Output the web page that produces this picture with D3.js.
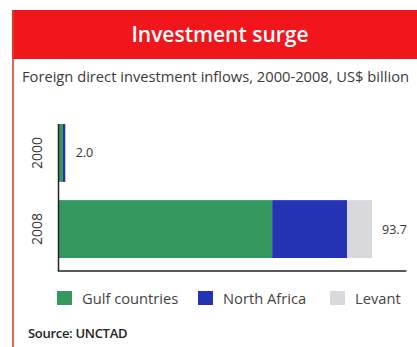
<!DOCTYPE html>
<html>
<head>
<meta charset="utf-8">
<script src="https://cdn.jsdelivr.net/npm/d3@7"></script>
<style>
  body { margin: 0; background: #fff; }
  text { font-family: "Open Sans", sans-serif; }
</style>
</head>
<body>
<svg id="chart" width="417" height="347"></svg>
<script>
const years = ["2000", "2008"]
const regions = ["Gulf countries", "North Africa", "Levant"]
const gulf = [1.2, 63.8]
const northAfrica = [0.7, 22.4]
const levant = [0.1, 7.5]
const totals = ["2.0", "93.7"]
const colors = ["#35985f", "#2433b4", "#d9d9dd"]

const WIDTH = 417, HEIGHT = 347
const svg = d3.select('#chart')

// frame: red header + thin red rule on the left
svg.append('rect')
    .attr('x', 12).attr('y', 10)
    .attr('width', WIDTH - 12).attr('height', 49)
    .attr('fill', '#f2151b')
svg.append('line')
    .attr('x1', 13).attr('x2', 13)
    .attr('y1', 10).attr('y2', HEIGHT)
    .attr('stroke', '#d8452b').attr('stroke-width', 1.6)

svg.append('text')
    .attr('x', 220).attr('y', 42)
    .attr('text-anchor', 'middle')
    .attr('fill', '#fff')
    .style('font-size', '21px')
    .style('font-weight', 600)
    .text('Investment surge')

svg.append('text')
    .attr('x', 22).attr('y', 82)
    .attr('fill', '#3a3a3a')
    .style('font-size', '14.7px')
    .text('Foreign direct investment inflows, 2000-2008, US$ billion')

// stacked data
const table = years.map((y, i) => ({ year: y, "Gulf countries": gulf[i], "North Africa": northAfrica[i], "Levant": levant[i], total: totals[i] }))
const series = d3.stack().keys(regions)(table)

const x = d3.scaleLinear().domain([0, 104]).range([59, 406.5])
const y = d3.scaleBand().domain(years).range([124, 258]).paddingInner(0.24)
const color = d3.scaleOrdinal().domain(regions).range(colors)

svg.append('g')
    .selectAll('g')
    .data(series)
    .join('g')
    .attr('fill', d => color(d.key))
    .selectAll('rect')
    .data(d => d)
    .join('rect')
    .attr('x', d => x(d[0]))
    .attr('y', d => y(d.data.year))
    .attr('width', d => x(d[1]) - x(d[0]))
    .attr('height', y.bandwidth())

// axes lines
svg.append('line')
    .attr('x1', x(0) - 0.5).attr('x2', x(0) - 0.5)
    .attr('y1', y.range()[0]).attr('y2', 271)
    .attr('stroke', '#222').attr('stroke-width', 1.5)
svg.append('line')
    .attr('x1', x(0) - 1.2).attr('x2', x.range()[1])
    .attr('y1', 271).attr('y2', 271)
    .attr('stroke', '#222').attr('stroke-width', 1.5)

// year labels, rotated
svg.append('g')
    .selectAll('text')
    .data(years)
    .join('text')
    .attr('transform', d => `translate(42,${y(d) + y.bandwidth() / 2}) rotate(-90)`)
    .attr('text-anchor', 'middle')
    .attr('fill', '#333')
    .style('font-size', '14px')
    .text(d => d)

// totals
svg.append('g')
    .selectAll('text')
    .data(table)
    .join('text')
    .attr('x', d => x(d3.sum(regions, k => d[k])) + 10)
    .attr('y', d => y(d.year) + y.bandwidth() / 2 + 4.5)
    .attr('fill', '#333')
    .style('font-size', '12.5px')
    .text(d => d.total)

// legend
const legendX = [57, 198, 330]
const legend = svg.append('g')
    .selectAll('g')
    .data(regions)
    .join('g')
    .attr('transform', (d, i) => `translate(${legendX[i]},291)`)
legend.append('rect')
    .attr('width', 15).attr('height', 14)
    .attr('fill', d => color(d))
legend.append('text')
    .attr('x', 25).attr('y', 12.5)
    .attr('fill', '#444')
    .style('font-size', '14.7px')
    .text(d => d)

svg.append('text')
    .attr('x', 28).attr('y', 338)
    .attr('fill', '#222')
    .style('font-size', '13px')
    .style('font-weight', 600)
    .style('letter-spacing', '-0.3px')
    .text('Source: UNCTAD')
</script>
</body>
</html>
